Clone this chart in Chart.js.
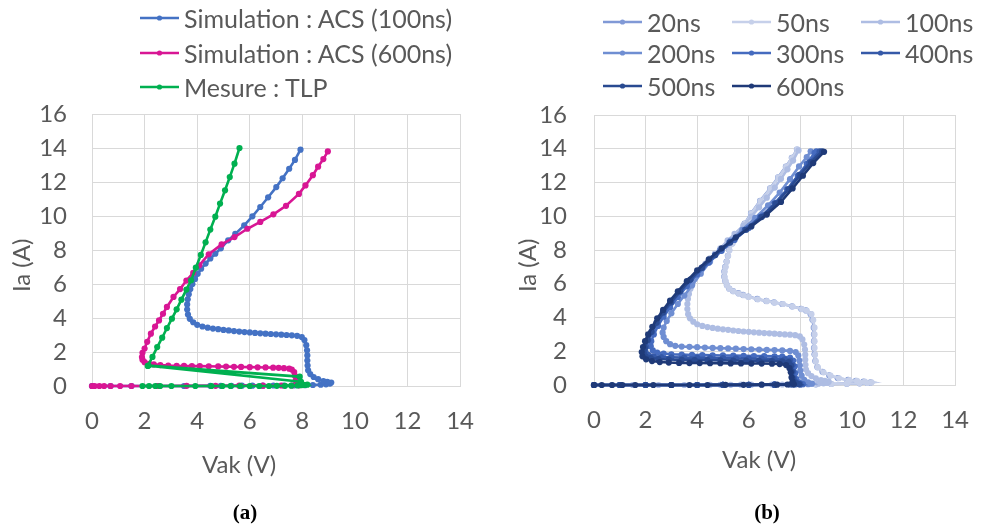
<!DOCTYPE html>
<html><head><meta charset="utf-8">
<script src="https://cdn.jsdelivr.net/npm/chart.js@4.4.1/dist/chart.umd.min.js"></script>
<style>
html,body{margin:0;padding:0;background:#fff;}
#wrap{position:relative;width:990px;height:525px;overflow:hidden;font-family:Lato,'Open Sans',sans-serif;color:#595959;background:#fff;}
canvas{position:absolute;top:0;}
.leg{position:absolute;display:flex;align-items:center;height:30px;font-size:25px;line-height:30px;white-space:nowrap;}
.leg svg{flex:none;margin-right:5px;}
.cap{position:absolute;font-family:'Liberation Serif','Times New Roman',serif;font-weight:bold;font-size:21px;color:#000;transform:translate(-50%,-50%);}
</style></head><body>
<div id="wrap">
<canvas id="ca" width="495" height="525" style="left:0"></canvas>
<canvas id="cb" width="495" height="525" style="left:495px"></canvas>
<div id="legA"></div><div id="legB"></div>
<div class="cap" style="left:245px;top:512px">(a)</div>
<div class="cap" style="left:767px;top:512px">(b)</div>
</div>
<script>
// ---------- data ----------
const xTicks = [0, 2, 4, 6, 8, 10, 12, 14];
const yTicks = [0, 2, 4, 6, 8, 10, 12, 14, 16];
const xTitle = 'Vak (V)';
const yTitle = 'Ia (A)';

const seriesA = ['Simulation : ACS (100ns)', 'Simulation : ACS (600ns)', 'Mesure : TLP'];

const acs100 = [[0,0],[0.7,0],[1.5,0],[2.5,0],[3.5,0],[4.5,0.01],[4.9,0.01],[5.3,0.01],[5.7,0.02],[6.1,0.02],[6.5,0.02],[6.9,0.03],[7.3,0.03],[7.7,0.04],[8.1,0.05],[8.4,0.06],[8.7,0.08],[8.9,0.1],[9.05,0.14],[9.1,0.2],
 [8.95,0.25],[8.8,0.29],[8.6,0.4],[8.43,0.53],[8.3,0.7],[8.22,0.92],[8.2,1.2],[8.19,1.5],[8.19,1.8],[8.18,2.1],[8.15,2.4],[8.08,2.7],[7.98,2.88],[7.8,2.95],[7.6,2.98],[7.4,3.0],[7.2,3.02],[7.0,3.04],[6.8,3.06],[6.6,3.08],[6.4,3.1],[6.2,3.12],[6.0,3.15],[5.8,3.17],[5.6,3.2],[5.4,3.23],[5.2,3.27],[5.0,3.3],[4.8,3.34],[4.6,3.38],[4.4,3.43],[4.2,3.5],[4.0,3.6],[3.85,3.75],[3.72,3.95],[3.65,4.2],[3.62,4.5],[3.62,4.8],[3.64,5.1],[3.68,5.4],[3.74,5.7],[3.82,6.0],[3.92,6.3],[4.02,6.6],[4.15,6.9],[4.32,7.2],[4.5,7.5],[4.69,7.78],[4.9,8.1],[5.18,8.57],[5.45,8.95],[5.79,9.45],[6.1,9.98],[6.4,10.53],[6.7,11.1],[7.01,11.7],[7.25,12.22],[7.5,12.78],[7.72,13.3],[7.93,13.9]];

const acs600 = [[0,0],[0.1,0],[0.28,0],[0.46,0],[0.71,0],[1.07,0],[1.5,0],[2.5,0],[3.6,0.01],[4.7,0.01],[5.6,0.02],[6.5,0.02],[7.2,0.03],[7.6,0.03],[7.87,0.04],
 [7.8,0.15],[7.75,0.33],[7.72,0.6],[7.69,0.82],[7.6,0.97],[7.5,1.02],[7.3,1.05],[7.1,1.07],[6.89,1.08],[6.6,1.09],[6.3,1.1],[6.0,1.11],[5.67,1.12],[5.4,1.13],[5.1,1.14],[4.8,1.15],[4.44,1.16],[4.1,1.17],[3.8,1.17],[3.5,1.18],[3.22,1.18],[2.9,1.2],[2.6,1.23],[2.35,1.27],[2.18,1.31],[2.0,1.4],[1.92,1.55],[1.9,1.7],[1.92,1.95],[2.0,2.2],[2.1,2.6],[2.24,3.08],[2.4,3.5],[2.55,3.86],[2.7,4.25],[2.85,4.65],[3.1,5.24],[3.35,5.7],[3.59,6.2],[3.85,6.65],[4.08,7.1],[4.44,7.75],[4.93,8.33],[5.42,8.76],[5.91,9.25],[6.4,9.65],[6.9,10.1],[7.38,10.6],[7.87,11.3],[8.12,11.8],[8.4,12.4],[8.6,12.9],[8.8,13.35],[8.97,13.8]];

const tlp = [[1.92,0],[2.17,0],[2.41,0],[2.59,0],[3.02,0],[3.93,0],[4.54,0],[4.96,0],[5.27,0],[5.64,0],[6.0,0],[6.36,0],[6.73,0],[7.03,0.01],[7.34,0.01],[7.58,0.02],[7.82,0.03],[7.95,0.05],[8.07,0.06],[8.19,0.08],
 [7.95,0.25],[2.15,1.2],[7.9,0.55],[2.12,1.18],
 [2.3,1.71],[2.48,2.29],[2.67,2.84],[2.85,3.41],[3.04,3.96],[3.22,4.51],[3.4,5.08],[3.59,5.67],[3.77,6.22],[3.95,6.96],[4.14,7.71],[4.32,8.45],[4.5,9.2],[4.69,9.96],[4.87,10.73],[5.06,11.51],[5.24,12.29],[5.42,13.08],[5.61,14.0]];

const seriesB = ['20ns', '50ns', '100ns', '200ns', '300ns', '400ns', '500ns', '600ns'];

const b50 = [[0,0],[1,0],[2,0],[3,0],[4,0],[5,0.01],[6,0.01],[7,0.02],[8,0.03],[8.6,0.04],[9.2,0.06],[9.8,0.08],[10.3,0.1],[10.6,0.12],[10.76,0.15],
 [10.5,0.2],[10.2,0.24],[9.9,0.29],[9.5,0.4],[9.17,0.55],[8.9,0.75],[8.68,1.04],[8.6,1.4],[8.57,1.8],[8.55,2.2],[8.55,2.6],[8.55,3.0],[8.55,3.4],[8.5,3.85],[8.43,4.2],[8.25,4.4],[8.06,4.5],[7.7,4.65],[7.33,4.8],[7.0,4.88],[6.7,4.97],[6.35,5.08],[6.0,5.22],[5.8,5.32],[5.61,5.42],[5.4,5.55],[5.25,5.7],[5.16,5.9],[5.1,6.15],[5.06,6.4],[5.06,6.7],[5.1,6.99],[5.15,7.3],[5.2,7.65],[5.25,7.98],[5.37,8.38],[5.61,8.97],[5.85,9.55],[6.1,10.16],[6.45,10.9],[6.84,11.64],[7.15,12.3],[7.45,12.93],[7.68,13.45],[7.88,13.96]];

const b20 = [[0,0],[1,0],[2,0],[3,0],[4,0],[5,0.01],[6,0.01],[7,0.02],[8,0.03],[8.6,0.04],[9.2,0.06],[9.8,0.08],[10.3,0.1],[10.6,0.12],[10.72,0.15],
 [10.45,0.2],[10.15,0.25],[9.85,0.3],[9.45,0.41],[9.12,0.57],[8.86,0.78],[8.66,1.06],[8.58,1.42],[8.55,1.82],[8.53,2.2],[8.53,2.6],[8.53,3.0],[8.52,3.4],[8.47,3.86],[8.4,4.2],[8.22,4.42],[8.03,4.52],[7.68,4.66],[7.3,4.8],[6.98,4.9],[6.68,4.98],[6.33,5.1],[5.98,5.24],[5.78,5.34],[5.6,5.44],[5.39,5.57],[5.24,5.72],[5.15,5.92],[5.09,6.16],[5.05,6.42],[5.05,6.72],[5.09,7.0],[5.14,7.32],[5.19,7.66],[5.24,8.0],[5.36,8.4],[5.6,8.98],[5.84,9.56],[6.09,10.17],[6.44,10.91],[6.83,11.65],[7.14,12.31],[7.44,12.94],[7.67,13.46],[7.87,13.95]];

const b100 = acs100;

const b200 = [[0,0],[1,0],[2,0],[3,0],[4,0],[5,0.01],[6,0.01],[7,0.02],[8.0,0.03],[8.3,0.05],[8.45,0.08],
 [8.3,0.15],[8.15,0.3],[8.05,0.55],[8.0,0.85],[7.98,1.15],[7.96,1.45],[7.92,1.75],[7.82,1.95],[7.6,2.02],[7.3,2.05],[7.0,2.07],[6.7,2.08],[6.4,2.1],[6.1,2.12],[5.8,2.13],[5.5,2.15],[5.2,2.17],[4.9,2.18],[4.6,2.2],[4.3,2.22],[4.0,2.24],[3.7,2.26],[3.4,2.28],[3.15,2.32],[2.95,2.42],[2.8,2.6],[2.7,2.85],[2.66,3.1],[2.7,3.4],[2.82,3.8],[3.0,4.25],[3.25,4.8],[3.5,5.3],[3.8,5.9],[4.14,6.6],[4.5,7.3],[4.88,7.98],[5.3,8.55],[5.75,9.2],[6.25,9.9],[6.75,10.65],[7.2,11.4],[7.6,12.2],[7.95,12.95],[8.25,13.5],[8.4,13.85]];

const b300 = [[0,0],[1,0],[2,0],[3,0],[4,0],[5,0.01],[6,0.01],[7,0.02],[7.8,0.03],[8.1,0.05],
 [7.95,0.15],[7.85,0.35],[7.8,0.7],[7.78,1.1],[7.72,1.45],[7.6,1.62],[7.3,1.68],[7.0,1.7],[6.6,1.71],[6.2,1.72],[5.8,1.73],[5.4,1.74],[5.0,1.75],[4.6,1.76],[4.2,1.77],[3.8,1.78],[3.4,1.8],[3.0,1.82],[2.7,1.86],[2.45,1.92],[2.28,2.05],[2.2,2.3],[2.22,2.6],[2.32,3.0],[2.48,3.5],[2.7,4.05],[2.95,4.6],[3.25,5.2],[3.6,5.85],[4.0,6.55],[4.45,7.25],[4.95,7.95],[5.45,8.6],[6.0,9.3],[6.55,10.05],[7.05,10.8],[7.5,11.6],[7.9,12.4],[8.25,13.1],[8.55,13.75],[8.62,13.85]];

const b400 = [[0,0],[1,0],[2,0],[3,0],[4,0],[5,0.01],[6,0.01],[7,0.02],[7.7,0.03],[8.0,0.05],
 [7.85,0.15],[7.75,0.4],[7.72,0.8],[7.7,1.2],[7.6,1.45],[7.4,1.52],[7.0,1.55],[6.5,1.56],[6.0,1.57],[5.5,1.58],[5.0,1.59],[4.5,1.6],[4.0,1.61],[3.5,1.62],[3.0,1.64],[2.6,1.66],[2.3,1.7],[2.1,1.78],[2.0,1.95],[2.02,2.25],[2.1,2.65],[2.25,3.15],[2.45,3.7],[2.7,4.3],[3.0,4.9],[3.35,5.55],[3.75,6.25],[4.2,6.95],[4.7,7.7],[5.25,8.45],[5.85,9.2],[6.45,9.95],[7.0,10.75],[7.5,11.6],[7.95,12.45],[8.35,13.2],[8.75,13.85]];

const b500 = [[0,0],[1,0],[2,0],[3,0],[4,0],[5,0.01],[6,0.01],[7,0.02],[7.6,0.03],[7.95,0.05],
 [7.8,0.15],[7.7,0.4],[7.67,0.8],[7.64,1.15],[7.55,1.35],[7.3,1.4],[6.9,1.42],[6.4,1.43],[5.9,1.44],[5.4,1.45],[4.9,1.46],[4.4,1.47],[3.9,1.48],[3.4,1.49],[2.9,1.51],[2.5,1.54],[2.2,1.6],[2.0,1.7],[1.93,1.9],[1.97,2.2],[2.07,2.65],[2.22,3.15],[2.42,3.7],[2.67,4.3],[2.97,4.9],[3.33,5.55],[3.73,6.25],[4.18,6.95],[4.7,7.7],[5.28,8.45],[5.9,9.2],[6.5,9.95],[7.05,10.75],[7.55,11.6],[8.0,12.45],[8.42,13.2],[8.85,13.85]];

const b600 = [[0,0],[0.3,0],[0.7,0],[1.1,0],[1.6,0],[2.3,0],[3.0,0],[3.7,0],[4.4,0],[5.1,0.01],[5.8,0.01],[6.5,0.02],[7.1,0.02],[7.5,0.03],[7.75,0.04],
 [7.7,0.2],[7.66,0.45],[7.63,0.75],[7.58,1.0],[7.45,1.18],[7.2,1.24],[6.9,1.26],[6.5,1.27],[6.1,1.27],[5.7,1.28],[5.3,1.28],[4.9,1.29],[4.5,1.29],[4.1,1.3],[3.7,1.3],[3.3,1.31],[2.9,1.33],[2.55,1.36],[2.25,1.42],[2.02,1.52],[1.88,1.7],[1.85,1.95],[1.9,2.25],[1.98,2.6],[2.1,3.0],[2.26,3.45],[2.45,3.95],[2.68,4.45],[2.95,5.0],[3.25,5.55],[3.6,6.15],[4.0,6.8],[4.45,7.45],[4.95,8.1],[5.5,8.75],[6.1,9.4],[6.7,10.1],[7.25,10.85],[7.7,11.65],[8.1,12.4],[8.5,13.15],[8.92,13.82]];

// ---------- styles ----------
const FONT = "Lato, 'Open Sans', sans-serif";
const FS = 24;
const TXT = '#595959';
const GRID = '#d9d9d9';
const colorsA = ['#4472c4', '#d81694', '#00b050'];
const colorsB = ['#8099d6', '#c6d0ea', '#aebde3', '#6f8ed2', '#456bbf', '#3559a8', '#294a91', '#1f3a78'];

const toXY = p => p.map(([x, y]) => ({x, y}));

function ds(label, pts, color, order) {
  return {label, data: toXY(pts), showLine: true, borderColor: color, backgroundColor: color,
    pointBackgroundColor: color, pointBorderColor: color, pointBorderWidth: 0, pointRadius: 3.1,
    borderWidth: 2.6, tension: 0, clip: 8, order};
}

function makeChart(id, datasets, g) {
  return new Chart(document.getElementById(id), {
    type: 'scatter',
    data: {datasets},
    options: {
      responsive: false, animation: false, devicePixelRatio: 1,
      layout: {padding: {left: 0, top: g.top, right: g.right, bottom: 0}},
      plugins: {legend: {display: false}, tooltip: {enabled: false}, title: {display: false}},
      scales: {
        x: {type: 'linear', min: xTicks[0], max: xTicks[xTicks.length - 1],
          afterBuildTicks: s => { s.ticks = xTicks.map(v => ({value: v})); },
          afterFit: s => { s.height = 525 - g.bottom; },
          grid: {color: GRID, lineWidth: 1, drawTicks: false},
          border: {color: GRID},
          ticks: {font: {family: FONT, size: FS}, color: TXT, padding: g.xtp, maxRotation: 0, autoSkip: false},
          title: {display: true, text: xTitle + g.xsp, font: {family: FONT, size: FS}, color: TXT, padding: {top: 0, bottom: g.xtb}}},
        y: {type: 'linear', min: yTicks[0], max: yTicks[yTicks.length - 1],
          afterBuildTicks: s => { s.ticks = yTicks.map(v => ({value: v})); },
          afterFit: s => { s.width = g.left; },
          grid: {color: GRID, lineWidth: 1, drawTicks: false},
          border: {color: GRID},
          ticks: {font: {family: FONT, size: FS}, color: TXT, padding: g.ytp, autoSkip: false},
          title: {display: true, text: yTitle + g.ysp, font: {family: FONT, size: FS}, color: TXT, padding: {top: g.ytt, bottom: 0}}}
      }
    }
  });
}

const dataA = [acs100, acs600, tlp];
makeChart('ca', dataA.map((d, i) => ds(seriesA[i], d, colorsA[i], dataA.length - 1 - i)),
  {top: 114, right: 19, bottom: 386, left: 92, xtp: 21, xtb: 45.6, ytp: 25, ytt: 7.6, xsp: '            ', ysp: '     '});

const dataB = [b20, b50, b100, b200, b300, b400, b500, b600];
makeChart('cb', dataB.map((d, i) => ds(seriesB[i], d, colorsB[i], dataB.length - 1 - i)),
  {top: 115, right: 15, bottom: 385, left: 99, xtp: 21, xtb: 50.6, ytp: 27, ytt: 18.6, xsp: '     ', ysp: '     '});

// ---------- HTML legends ----------
function legendItem(parent, label, color, left, cy) {
  const d = document.createElement('div');
  d.className = 'leg';
  d.style.left = left + 'px';
  d.style.top = (cy - 15) + 'px';
  d.innerHTML = '<svg width="39" height="10"><line x1="0" y1="5" x2="39" y2="5" stroke="' + color +
    '" stroke-width="2.6"/><circle cx="19.5" cy="5" r="2.6" fill="' + color + '"/></svg><span></span>';
  d.querySelector('span').textContent = label;
  parent.appendChild(d);
}
const legA = document.getElementById('legA');
const rowsA = [18, 52.5, 87];
seriesA.forEach((s, i) => legendItem(legA, s, colorsA[i], 140, rowsA[i]));
const legB = document.getElementById('legB');
const colsB = [603, 732, 861];
const rowsB = [22, 53, 86];
seriesB.forEach((s, i) => legendItem(legB, s, colorsB[i], colsB[i % 3], rowsB[Math.floor(i / 3)]));
</script>
</body></html>
